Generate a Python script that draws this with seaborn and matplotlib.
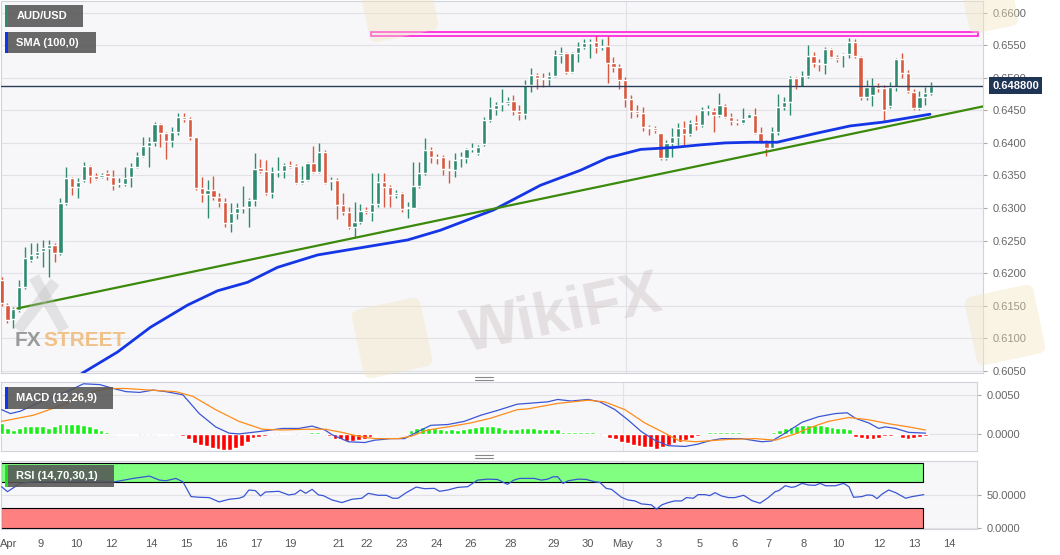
import numpy as np
import pandas as pd
import seaborn as sns
import matplotlib.pyplot as plt
from matplotlib.patches import Rectangle, FancyBboxPatch
from matplotlib.lines import Line2D
from matplotlib.ticker import FormatStrFormatter
from matplotlib.transforms import blended_transform_factory, Affine2D

# AUD/USD 4h candles, Apr 8 -> May 13
opens = [0.6190, 0.6151, 0.6130, 0.6144, 0.6179, 0.6220, 0.6228, 0.6234, 0.6239, 0.6243,
         0.6231, 0.6308, 0.6346, 0.6332, 0.6343, 0.6364, 0.6349, 0.6348, 0.6354, 0.6348,
         0.6337, 0.6337, 0.6348, 0.6363, 0.6380, 0.6395, 0.6401, 0.6429, 0.6415, 0.6403,
         0.6417, 0.6440, 0.6437, 0.6409, 0.6331, 0.6322, 0.6328, 0.6317, 0.6309, 0.6277,
         0.6292, 0.6300, 0.6301, 0.6312, 0.6361, 0.6357, 0.6323, 0.6355, 0.6357, 0.6366,
         0.6364, 0.6338, 0.6343, 0.6369, 0.6355, 0.6386, 0.6341, 0.6343, 0.6305, 0.6294,
         0.6271, 0.6279, 0.6297, 0.6294, 0.6306, 0.6340, 0.6332, 0.6320, 0.6323, 0.6300,
         0.6300, 0.6334, 0.6354, 0.6389, 0.6378, 0.6378, 0.6360, 0.6358, 0.6377, 0.6377,
         0.6391, 0.6384, 0.6398, 0.6435, 0.6452, 0.6459, 0.6461, 0.6464, 0.6449, 0.6444,
         0.6489, 0.6504, 0.6499, 0.6498, 0.6502, 0.6535, 0.6538, 0.6509, 0.6538, 0.6547,
         0.6553, 0.6555, 0.6547, 0.6548, 0.6522, 0.6516, 0.6496, 0.6467, 0.6449, 0.6446,
         0.6424, 0.6423, 0.6415, 0.6377, 0.6400, 0.6409, 0.6423, 0.6414, 0.6432, 0.6427,
         0.6450, 0.6449, 0.6443, 0.6456, 0.6440, 0.6433, 0.6430, 0.6438, 0.6443, 0.6415,
         0.6401, 0.6392, 0.6417, 0.6455, 0.6463, 0.6499, 0.6486, 0.6502, 0.6533, 0.6522,
         0.6521, 0.6544, 0.6532, 0.6535, 0.6536, 0.6555, 0.6532, 0.6470, 0.6473, 0.6487,
         0.6484, 0.6456, 0.6486, 0.6529, 0.6507, 0.6478, 0.6453, 0.6470, 0.6476]
highs = [0.6194, 0.6154, 0.6148, 0.6190, 0.6240, 0.6246, 0.6246, 0.6251, 0.6251, 0.6246,
         0.6315, 0.6363, 0.6348, 0.6346, 0.6371, 0.6366, 0.6354, 0.6354, 0.6358, 0.6358,
         0.6346, 0.6363, 0.6369, 0.6386, 0.6409, 0.6409, 0.6432, 0.6430, 0.6417, 0.6424,
         0.6446, 0.6446, 0.6440, 0.6409, 0.6348, 0.6343, 0.6349, 0.6323, 0.6315, 0.6308,
         0.6308, 0.6334, 0.6315, 0.6384, 0.6375, 0.6374, 0.6363, 0.6378, 0.6369, 0.6372,
         0.6367, 0.6364, 0.6371, 0.6395, 0.6400, 0.6389, 0.6348, 0.6346, 0.6323, 0.6302,
         0.6309, 0.6306, 0.6302, 0.6354, 0.6354, 0.6354, 0.6335, 0.6328, 0.6325, 0.6309,
         0.6370, 0.6370, 0.6407, 0.6394, 0.6383, 0.6381, 0.6374, 0.6384, 0.6386, 0.6392,
         0.6400, 0.6397, 0.6440, 0.6470, 0.6463, 0.6482, 0.6470, 0.6473, 0.6458, 0.6496,
         0.6515, 0.6507, 0.6507, 0.6509, 0.6542, 0.6547, 0.6539, 0.6539, 0.6555, 0.6559,
         0.6559, 0.6568, 0.6559, 0.6564, 0.6532, 0.6521, 0.6501, 0.6473, 0.6458, 0.6455,
         0.6427, 0.6426, 0.6415, 0.6404, 0.6423, 0.6430, 0.6433, 0.6435, 0.6443, 0.6455,
         0.6458, 0.6453, 0.6476, 0.6459, 0.6446, 0.6437, 0.6453, 0.6446, 0.6453, 0.6424,
         0.6404, 0.6424, 0.6475, 0.6470, 0.6502, 0.6501, 0.6510, 0.6550, 0.6539, 0.6529,
         0.6547, 0.6545, 0.6535, 0.6538, 0.6561, 0.6559, 0.6533, 0.6496, 0.6499, 0.6492,
         0.6489, 0.6493, 0.6530, 0.6538, 0.6512, 0.6483, 0.6479, 0.6486, 0.6493]
lows = [0.6150, 0.6123, 0.6116, 0.6141, 0.6176, 0.6217, 0.6223, 0.6209, 0.6194, 0.6217,
        0.6228, 0.6305, 0.6320, 0.6315, 0.6340, 0.6338, 0.6343, 0.6346, 0.6343, 0.6328,
        0.6332, 0.6334, 0.6332, 0.6361, 0.6378, 0.6363, 0.6395, 0.6394, 0.6375, 0.6394,
        0.6412, 0.6432, 0.6404, 0.6328, 0.6309, 0.6285, 0.6312, 0.6301, 0.6271, 0.6263,
        0.6283, 0.6292, 0.6271, 0.6303, 0.6354, 0.6320, 0.6315, 0.6348, 0.6346, 0.6361,
        0.6337, 0.6337, 0.6341, 0.6354, 0.6354, 0.6337, 0.6328, 0.6283, 0.6289, 0.6268,
        0.6254, 0.6275, 0.6291, 0.6280, 0.6302, 0.6302, 0.6302, 0.6315, 0.6294, 0.6285,
        0.6300, 0.6331, 0.6351, 0.6369, 0.6368, 0.6351, 0.6338, 0.6348, 0.6363, 0.6369,
        0.6386, 0.6381, 0.6395, 0.6432, 0.6443, 0.6449, 0.6458, 0.6443, 0.6435, 0.6436,
        0.6478, 0.6482, 0.6486, 0.6487, 0.6501, 0.6522, 0.6506, 0.6507, 0.6524, 0.6544,
        0.6530, 0.6538, 0.6542, 0.6492, 0.6509, 0.6482, 0.6455, 0.6438, 0.6440, 0.6418,
        0.6412, 0.6415, 0.6374, 0.6374, 0.6378, 0.6397, 0.6395, 0.6411, 0.6420, 0.6424,
        0.6443, 0.6417, 0.6440, 0.6438, 0.6427, 0.6427, 0.6429, 0.6438, 0.6414, 0.6400,
        0.6380, 0.6390, 0.6412, 0.6450, 0.6443, 0.6482, 0.6486, 0.6499, 0.6516, 0.6510,
        0.6506, 0.6530, 0.6524, 0.6516, 0.6530, 0.6530, 0.6466, 0.6466, 0.6456, 0.6478,
        0.6433, 0.6453, 0.6480, 0.6499, 0.6476, 0.6450, 0.6450, 0.6458, 0.6473]
closes = [0.6154, 0.6128, 0.6145, 0.6179, 0.6223, 0.6228, 0.6232, 0.6239, 0.6243, 0.6231,
          0.6308, 0.6346, 0.6332, 0.6340, 0.6364, 0.6349, 0.6344, 0.6351, 0.6349, 0.6335,
          0.6338, 0.6346, 0.6363, 0.6380, 0.6395, 0.6401, 0.6429, 0.6415, 0.6403, 0.6417,
          0.6440, 0.6437, 0.6409, 0.6331, 0.6322, 0.6328, 0.6317, 0.6309, 0.6277, 0.6292,
          0.6300, 0.6301, 0.6312, 0.6360, 0.6357, 0.6323, 0.6355, 0.6357, 0.6366, 0.6363,
          0.6338, 0.6343, 0.6369, 0.6355, 0.6386, 0.6338, 0.6343, 0.6305, 0.6294, 0.6271,
          0.6279, 0.6295, 0.6294, 0.6306, 0.6340, 0.6332, 0.6320, 0.6323, 0.6298, 0.6301,
          0.6334, 0.6354, 0.6389, 0.6378, 0.6377, 0.6360, 0.6358, 0.6374, 0.6378, 0.6391,
          0.6392, 0.6394, 0.6435, 0.6453, 0.6458, 0.6461, 0.6464, 0.6449, 0.6444, 0.6489,
          0.6504, 0.6499, 0.6498, 0.6502, 0.6535, 0.6538, 0.6509, 0.6538, 0.6547, 0.6553,
          0.6555, 0.6547, 0.6548, 0.6522, 0.6516, 0.6496, 0.6467, 0.6449, 0.6446, 0.6424,
          0.6423, 0.6420, 0.6377, 0.6400, 0.6409, 0.6423, 0.6414, 0.6430, 0.6427, 0.6450,
          0.6452, 0.6443, 0.6458, 0.6440, 0.6433, 0.6432, 0.6437, 0.6444, 0.6415, 0.6401,
          0.6392, 0.6417, 0.6455, 0.6463, 0.6499, 0.6487, 0.6502, 0.6533, 0.6522, 0.6521,
          0.6544, 0.6532, 0.6529, 0.6536, 0.6555, 0.6533, 0.6470, 0.6486, 0.6487, 0.6484,
          0.6450, 0.6486, 0.6529, 0.6507, 0.6479, 0.6453, 0.6470, 0.6476, 0.6487]
last_price = 0.6488

# SMA(100) read at candle positions
sma_x = [11.7, 13.8, 19.7, 25.3, 31.6, 36.7, 41.8, 46.9, 53.7, 61, 69, 74.6, 83.6, 91.6, 98.4,
         103, 108.6, 114.2, 118.8, 123, 127.3, 131.8, 138.6, 144.2, 149.9, 157.8]
sma_v = [0.6033, 0.6047, 0.6079, 0.6117, 0.6151, 0.6173, 0.6186, 0.6209, 0.6228, 0.6239,
         0.6251, 0.6266, 0.6297, 0.6335, 0.6358, 0.6377, 0.6390, 0.6393, 0.6397, 0.6400,
         0.6401, 0.6401, 0.6415, 0.6426, 0.6432, 0.6444]

# ascending trendline and resistance level
trend_x = [2.7, 166.8]
trend_v = [0.6146, 0.6456]
resist_x = [62.7, 166.0]
resist_lvl = 0.6567

# MACD (12,26,9)
macd_hist = [0.0014, 0.0007, 0.00055, 0.0008, 0.001, 0.001, 0.001, 0.001, 0.0008, 0.001,
             0.0013, 0.0013, 0.0013, 0.0013, 0.0012, 0.001, 0.0007, 0.0005, 0.0002, 0.00003,
             -0.0001, -0.00015, -0.00015, -0.0001, -0.00005, 0.00003, 0.00003, -0.0001, -0.0001, -0.00012,
             -0.00005, -0.00025, -0.0007, -0.0011, -0.0014, -0.0016, -0.0018, -0.0019, -0.002, -0.002,
             -0.0018, -0.0015, -0.001, -0.0005, -0.0004, -0.0003, -0.0001, 0.00003, 0.0001, 0.0001,
             0.00003, 0.00003, 0.0001, 0.0002, 0.0002, 0.00003, -0.0003, -0.0006, -0.0007, -0.0009,
             -0.0009, -0.0008, -0.0007, -0.0004, -0.0001, -0.00003, 0.00003, 0.00003, -0.00003, 0.0001,
             0.0005, 0.0007, 0.0009, 0.0008, 0.0007, 0.0006, 0.00055, 0.0006, 0.00055, 0.00065,
             0.0007, 0.0009, 0.001, 0.001, 0.001, 0.0009, 0.00065, 0.0006, 0.00065, 0.0007,
             0.0007, 0.0007, 0.0006, 0.0006, 0.0006, 0.0006, 0.0003, 0.0003, 0.0003, 0.0003,
             0.0003, 0.0003, 0.00003, -0.0002, -0.0005, -0.0007, -0.001, -0.0012, -0.0014, -0.0016,
             -0.0017, -0.0017, -0.0019, -0.0017, -0.0014, -0.0012, -0.001, -0.0008, -0.0005, -0.0003,
             0.00003, 0.0002, 0.0002, 0.0002, 0.0002, 0.0002, 0.0002, 0.00003, -0.0002, -0.0002,
             -0.0002, 0.00003, 0.0003, 0.0005, 0.0007, 0.0009, 0.001, 0.0011, 0.0012, 0.0012,
             0.0011, 0.001, 0.0009, 0.0008, 0.0007, 0.0006, -0.0004, -0.0005, -0.0006, -0.0007,
             -0.0005, -0.0003, -0.0003, -0.0002, -0.0005, -0.0006, -0.0005, -0.0004, -0.0003]
macd_x = [0, 1.5, 3.2, 5.5, 8.3, 11.2, 14, 16.8, 19.1, 21.3, 23.6, 25.9, 28.1, 31, 33.8,
          36.6, 38.9, 40.6, 42.9, 45.1, 48, 50.8, 53.1, 55.3, 56.5, 59.3, 62.1, 63.8, 66.6, 68.9,
          71.2, 73.4, 76.3, 79.1, 82, 84.8, 88.2, 90, 93.4, 95.1, 97.4, 100.3, 102.3, 104.9, 107.1,
          109.4, 111.7, 114, 116.9, 119.1, 120.9, 123.1, 126.6, 130, 131.7, 134, 136.9, 139.7, 142.6,
          144.6, 146, 148.3, 150, 151.1, 152.9, 155.1, 158]
macd_v = [0.0031, 0.0026, 0.0029, 0.0037, 0.0046, 0.0054, 0.0064, 0.0063, 0.0058, 0.0054,
          0.0053, 0.0056, 0.0054, 0.0050, 0.0026, 0.0009, 0.0001, 0.0, 0.0002, 0.0004,
          0.0007, 0.0007, 0.0010, 0.0005, -0.0001, -0.0010, -0.0011, -0.0008, -0.0006, -0.0006,
          0.0003, 0.0011, 0.0012, 0.0016, 0.0024, 0.0030, 0.0038, 0.0039, 0.0041, 0.0044,
          0.0042, 0.0044, 0.0041, 0.0031, 0.0018, 0.0003, -0.0008, -0.0015, -0.0016, -0.0013,
          -0.0009, -0.0006, -0.0006, -0.0010, -0.0009, 0.0001, 0.0015, 0.0022, 0.0026, 0.0027,
          0.0020, 0.0014, 0.0007, 0.0009, 0.0007, 0.0002, 0.0001]
signal_x = [0, 5.5, 11.2, 15.7, 18, 21.3, 25.3, 29.8, 32.7, 36.6, 40.6, 44.6, 48, 52, 55.3,
            58.2, 61, 63.8, 67.8, 70, 72.9, 76.3, 80.2, 83.6, 88.2, 90, 95.1, 100.3, 103.1, 106.6,
            110, 112.9, 115.7, 118.6, 124.3, 128.9, 132.3, 135.7, 138.6, 141.4, 144.9, 148.3, 151.7,
            155.1, 158]
signal_v = [0.0016, 0.0024, 0.0039, 0.0054, 0.0058, 0.0058, 0.0056, 0.0054, 0.0048, 0.0031,
            0.0016, 0.0006, 0.0005, 0.0006, 0.0006, 0.0002, -0.0003, -0.0006, -0.0006, -0.0003,
            0.0005, 0.0009, 0.0014, 0.0020, 0.0031, 0.0032, 0.0039, 0.0043, 0.0041, 0.0031,
            0.0014, 0.0003, -0.0008, -0.0010, -0.0007, -0.0006, -0.0008, 0.0, 0.0009, 0.0016,
            0.0021, 0.0018, 0.0013, 0.0009, 0.0005]

# RSI (14)
rsi_x = [0, 1, 3.2, 5.5, 11.2, 16.8, 19.4, 22.5, 25.3, 27, 28.1, 29.8, 31, 32.4, 33.8,
         35.5, 37.2, 38.9, 40.6, 41.4, 42.3, 43.4, 44.3, 45.1, 47.4, 49.1, 50.2, 51.1, 52, 53.1,
         54.2, 55, 56.5, 58.2, 59.9, 61.6, 62.7, 64.4, 65.8, 66.9, 67.8, 69.2, 70.9, 72.3, 74,
         74.9, 76.3, 78, 79.7, 81.4, 83.1, 84.8, 86.5, 87.6, 88.6,
         90, 91.1, 92.3, 93.4, 94.3, 95.1, 96, 96.9, 98.6, 100, 101.4, 102.3, 103.4, 104.3, 106,
         107.1, 108.3, 109.4, 111.1, 112, 112.9, 114, 115.1, 116.3, 117.1, 118.3, 119.1, 120.3,
         121.1, 122, 123.1, 124.3, 125.4, 126.9, 128.3, 129.7, 131.1, 132.3, 132.9, 134, 135.1,
         135.7, 136.9, 138, 139.1, 140, 140.9, 142.6, 144, 144.9, 145.7, 147.1, 148, 148.9, 149.7,
         150.6, 151.7, 152.9, 154.6, 155.7, 157.7]
rsi_v = [63.1, 55.6, 68.2, 70.7, 71.7, 71.7, 70.7, 75.8, 79.3, 73.2, 72.2, 75.8, 70.7, 48, 47,
         46.5, 39.9, 43.9, 45.5, 48, 58.1, 57.1, 49, 55, 56.1, 50.5, 52, 58.1, 53, 59.1,
         50.5, 49.5, 42.9, 38.9, 43.9, 45.5, 53, 50, 50, 45.5, 45.5, 54, 62.6, 60.1, 60.6,
         56.1, 58.1, 62.1, 63.1, 73.2, 74.7, 74.2, 66.7, 73.2, 75.8,
         75.8, 75.8, 73.2, 74.7, 78.3, 78.3, 68.2, 72.2, 74.7, 74.2, 70.7, 69.7, 60.6, 59.1, 47,
         42.9, 41.4, 36.9, 35.4, 28.8, 35.4, 38.9, 41.4, 41.4, 46.5, 45.5, 51, 51,
         49.5, 54, 49, 46.5, 46.5, 50, 41.9, 37.9, 46.5, 55.6, 57.1, 64.6, 62.1,
         63.1, 68.2, 65.7, 65.2, 68.2, 64.6, 64.6, 68.2, 63.1, 47, 48, 50.5, 50, 45,
         52, 58.1, 54, 45.5, 48, 51]
rsi_upper, rsi_lower = 70, 30

# x axis day labels (positions in candle units)
tick_lab = ['Apr', '9', '10', '12', '14', '15', '16', '17', '19', '21', '22', '23', '24', '26',
            '28', '29', '30', 'May', '3', '5', '6', '7', '8', '10', '12', '13', '14']
tick_pos = [1.2, 6.7, 12.8, 18.8, 25.6, 31.6, 37.6, 43.6, 49.4, 57.6, 62.4, 68.4, 74.4, 80.3,
            87.0, 94.4, 100.3, 106.2, 112.3, 119.3, 125.3, 131.1, 137.1, 143.1, 150.1, 156.1, 162.1]

GREEN = '#2e8b6f'
RED = '#d9583f'
BG = '#f7f7f9'

sns.set_style("white")
plt.rcParams['font.family'] = ['Liberation Sans', 'DejaVu Sans']

W, H = 1060, 555
fig = plt.figure(figsize=(W / 100, H / 100), dpi=100)


def pane(left, top, right, bottom):
    return fig.add_axes([left / W, 1 - bottom / H, (right - left) / W, (bottom - top) / H])


ax = pane(1, 1, 983, 373)
ax_macd = pane(1, 382, 977, 451)
ax_rsi = pane(1, 461, 977, 529)

df = pd.DataFrame({'open': opens, 'high': highs, 'low': lows, 'close': closes})
df['idx'] = np.arange(len(df))
n = len(df)
col = np.where(df.close >= df.open, GREEN, RED)
may_pos = tick_pos[tick_lab.index('May')]

# price panel
ax.vlines(df.idx, df.low, df.high, colors=col, lw=1, zorder=3)
ax.bar(df.idx, (df.close - df.open).abs().clip(lower=0.00009),
       bottom=df[['open', 'close']].min(axis=1), width=0.72, color=col, zorder=4)
sns.lineplot(x=sma_x, y=sma_v, ax=ax, color='#1536e6', lw=2, sort=False, zorder=5)
sns.lineplot(x=trend_x, y=trend_v, ax=ax, color='#3b8a0c', lw=1.6, sort=False, zorder=5)
ax.add_patch(Rectangle((resist_x[0], resist_lvl - 0.00033), resist_x[1] - resist_x[0], 0.00066,
                       fc='#fbe8f8', ec='#ff1ad9', lw=1.2, zorder=5))
ax.axhline(last_price, color='#2a3d5a', lw=1, zorder=6)
ax.set_ylim(0.60468, 0.66178)
ax.set_yticks(np.round(np.arange(0.605, 0.6601, 0.005), 4))
ax.grid(axis='y', color='#e2e2e6', lw=0.8)
tr = blended_transform_factory(ax.transAxes, ax.transData)
ax.text(1.0095, last_price, f'{last_price:.6f}', transform=tr, color='white', fontsize=8,
        fontweight='bold', va='center', ha='left', clip_on=False, zorder=20,
        bbox=dict(boxstyle='square,pad=0.28', fc='#1f3556', ec='none'))

# MACD panel
ax_macd.bar(df.idx, macd_hist, width=0.82,
            color=np.where(np.array(macd_hist) >= 0, '#19ee19', '#ff0000'), zorder=3)
sns.lineplot(x=macd_x, y=macd_v, ax=ax_macd, color='#3a56d4', lw=0.9, sort=False, zorder=4)
sns.lineplot(x=signal_x, y=signal_v, ax=ax_macd, color='#ff8c1a', lw=0.9, sort=False, zorder=4)
ax_macd.set_ylim(-0.00218, 0.00663)
ax_macd.set_yticks([0.0, 0.005])
ax_macd.grid(axis='y', color='#e2e2e6', lw=0.8)

# RSI panel
band_end = n - 1.5
ax_rsi.add_patch(Rectangle((-0.1, rsi_upper), band_end + 0.1, 100 - rsi_upper,
                           fc='#80ff80', ec='black', lw=0.8, zorder=2))
ax_rsi.add_patch(Rectangle((-0.1, 0), band_end + 0.1, rsi_lower,
                           fc='#ff8080', ec='black', lw=0.8, zorder=2))
sns.lineplot(x=rsi_x, y=rsi_v, ax=ax_rsi, color='#3a56d4', lw=0.9, sort=False, zorder=4)
ax_rsi.set_ylim(-1.5, 102.4)
ax_rsi.set_yticks([0, 50])
ax_rsi.grid(axis='y', color='#e2e2e6', lw=0.8)

for a in (ax, ax_macd, ax_rsi):
    a.set_facecolor(BG)
    a.set_xlim(-0.1, 166.8)
    a.set_axisbelow(True)
    a.set_xlabel('')
    a.set_ylabel('')
    a.axvline(may_pos, color='#e2e2e6', lw=0.8, zorder=0)
    for s in a.spines.values():
        s.set_color('#d0d4da')
        s.set_linewidth(0.8)
    a.yaxis.tick_right()
    a.yaxis.set_major_formatter(FormatStrFormatter('%.4f'))
    a.tick_params(axis='y', length=3, width=0.8, color='#aaaaaa', labelsize=8,
                  labelcolor='#666666', pad=4)

ax.set_xticks([])
ax_macd.set_xticks([])
ax_rsi.set_xticks(tick_pos, tick_lab)
ax_rsi.tick_params(axis='x', length=3, width=0.8, color='#aaaaaa', labelsize=8,
                   labelcolor='#555555', pad=4)


def tag(x0, y0, w, h, text, stripe):
    fig.add_artist(Rectangle((x0 / W, 1 - (y0 + h) / H), w / W, h / H, transform=fig.transFigure,
                             fc='#555555', ec='none', alpha=0.88, zorder=10))
    fig.add_artist(Rectangle((x0 / W, 1 - (y0 + h) / H), 2.5 / W, h / H, transform=fig.transFigure,
                             fc=stripe, ec='none', zorder=11))
    fig.text((x0 + 11.5) / W, 1 - (y0 + h / 2) / H, text, color='white', fontsize=8,
             fontweight='bold', va='center', ha='left', zorder=12)


tag(5, 5, 78, 22, 'AUD/USD', '#2f8a6e')
tag(5, 32, 91, 21, 'SMA (100,0)', '#1133ee')
tag(5, 387, 108, 22, 'MACD (12,26,9)', '#1133ee')
tag(5, 465, 109, 22, 'RSI (14,70,30,1)', '#22dd22')

# panel resize handles
for y in (377, 380, 455, 458):
    fig.add_artist(Line2D([475 / W, 493 / W], [1 - y / H] * 2, color='#888888', lw=0.8))

# watermarks: FXSTREET logo (big faint X drawn as strokes) and WikiFX marks
for (x1, y1, x2, y2) in [(34, 277, 64, 330), (55, 282, 18, 330)]:
    fig.add_artist(Line2D([x1 / W, x2 / W], [1 - y1 / H, 1 - y2 / H], color='#bdbdbd',
                          lw=8, alpha=0.35, solid_capstyle='butt', zorder=8))
fx = fig.text(15 / W, 1 - 341 / H, 'FX', color='#8a8a8a', fontsize=15, fontweight='bold',
              alpha=0.85, va='center', zorder=9)
renderer = fig.canvas.get_renderer()
fx_end = fx.get_window_extent(renderer).x1
fig.text((fx_end + 2) / W, 1 - 341 / H, 'STREET', color='#f0b46e', fontsize=15,
         fontweight='bold', alpha=0.8, va='center', zorder=9)

logo_color = '#f4e4c0'
for (cx, cy, s, rot) in [(392, 338, 70, 12), (398, 2, 70, 12), (1005, 325, 70, 12), (990, 5, 50, 12)]:
    box = FancyBboxPatch((cx - s / 2, H - cy - s / 2), s, s,
                         boxstyle='round,pad=0,rounding_size=8', fc=logo_color, ec='none',
                         alpha=0.4, zorder=8)
    box.set_transform(Affine2D().rotate_deg_around(cx, H - cy, rot))
    fig.add_artist(box)
fig.text(562 / W, 1 - 316 / H, 'WikiFX', color='#c9bdbd', fontsize=44, fontweight='bold',
         alpha=0.4, ha='center', va='center', rotation=12, zorder=8)

fig.savefig('out.png', dpi=100, facecolor='white')
